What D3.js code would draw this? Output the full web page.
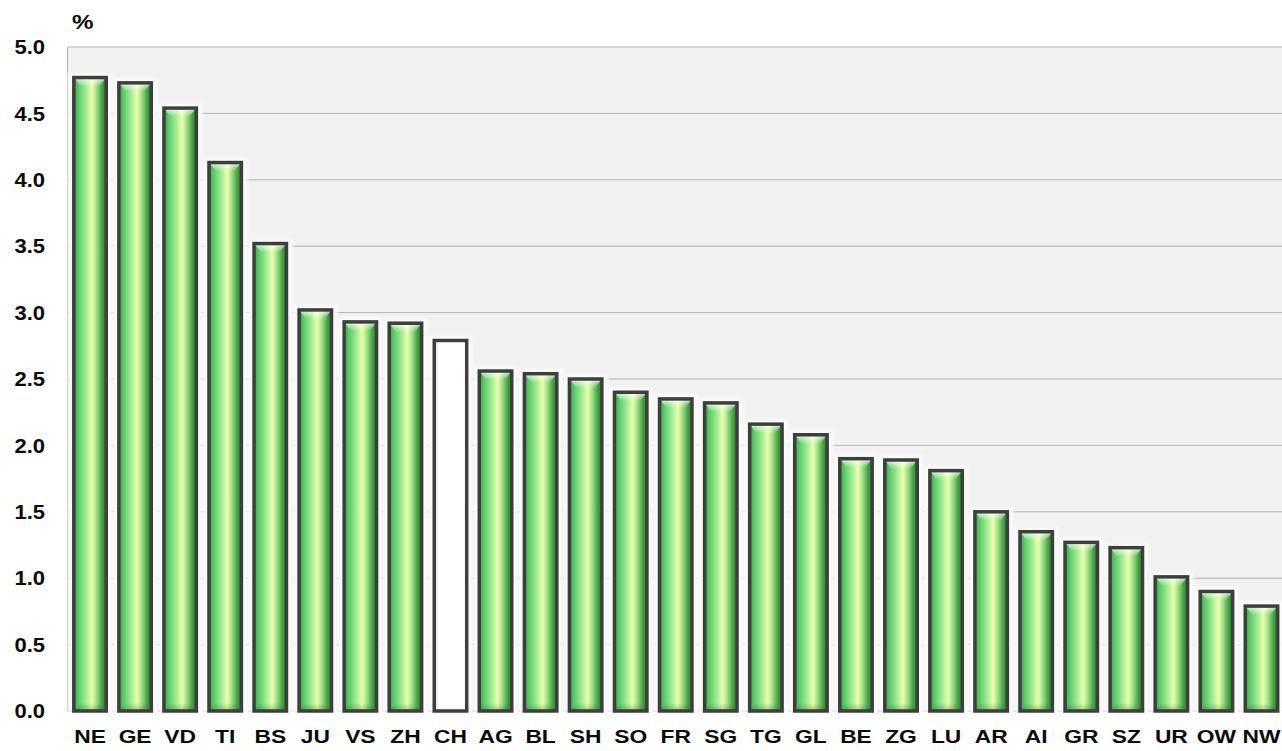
<!DOCTYPE html>
<html>
<head>
<meta charset="utf-8">
<script src="https://cdn.jsdelivr.net/npm/d3@7"></script>
<style>
  body { margin: 0; background: #fff; }
  text { font-family: "Liberation Sans", Arial, sans-serif; font-weight: bold; fill: #0a0a0a; }
</style>
</head>
<body>
<div class="chart"></div>
<script>
const cantons = ["NE", "GE", "VD", "TI", "BS", "JU", "VS", "ZH", "CH", "AG", "BL", "SH", "SO", "FR",
    "SG", "TG", "GL", "BE", "ZG", "LU", "AR", "AI", "GR", "SZ", "UR", "OW", "NW"]
const rates = [4.77, 4.73, 4.54, 4.13, 3.52, 3.02, 2.93, 2.92, 2.79, 2.56, 2.54, 2.50, 2.40, 2.35,
    2.32, 2.16, 2.08, 1.90, 1.89, 1.81, 1.50, 1.35, 1.27, 1.23, 1.01, 0.90, 0.79]
const yTicks = [0, 0.5, 1, 1.5, 2, 2.5, 3, 3.5, 4, 4.5, 5]
const highlight = "CH"

const width = 1282
const height = 751
const plotLeft = 67.5, plotRight = 1284, plotTop = 47, plotBottom = 711

const bars = cantons.map((c, i) => ({ canton: c, value: rates[i] }))

const svg = d3.select(".chart").append("svg").attr("width", width).attr("height", height)

const defs = svg.append("defs")
const grad = defs.append("linearGradient").attr("id", "barGrad")
    .attr("x1", "0%").attr("x2", "100%").attr("y1", "0%").attr("y2", "0%")
const stops = [[0, "#38a044"], [0.12, "#58c462"], [0.32, "#8ce48a"], [0.56, "#ecffae"],
    [0.7, "#a2e088"], [0.86, "#4aa848"], [1, "#277a2a"]]
stops.forEach(s => grad.append("stop").attr("offset", s[0]).attr("stop-color", s[1]))

const topGrad = defs.append("linearGradient").attr("id", "topGrad")
    .attr("x1", "0%").attr("x2", "0%").attr("y1", "0%").attr("y2", "100%")
topGrad.append("stop").attr("offset", 0).attr("stop-color", "#ffffff").attr("stop-opacity", 0.85)
topGrad.append("stop").attr("offset", 1).attr("stop-color", "#ffffff").attr("stop-opacity", 0)

const botGrad = defs.append("linearGradient").attr("id", "botGrad")
    .attr("x1", "0%").attr("x2", "0%").attr("y1", "0%").attr("y2", "100%")
botGrad.append("stop").attr("offset", 0).attr("stop-color", "#1f6a20").attr("stop-opacity", 0)
botGrad.append("stop").attr("offset", 1).attr("stop-color", "#1f6a20").attr("stop-opacity", 0.35)

const whiteGrad = defs.append("linearGradient").attr("id", "whiteGrad")
    .attr("x1", "0%").attr("x2", "100%")
whiteGrad.append("stop").attr("offset", 0).attr("stop-color", "#d8d8d8")
whiteGrad.append("stop").attr("offset", 0.15).attr("stop-color", "#ffffff")
whiteGrad.append("stop").attr("offset", 1).attr("stop-color", "#ffffff")

defs.append("filter").attr("id", "glow").attr("x", "-50%").attr("y", "-10%")
    .attr("width", "200%").attr("height", "120%")
    .append("feGaussianBlur").attr("stdDeviation", 1.5)

const x = d3.scaleBand().domain(cantons).range([plotLeft, plotRight]).paddingInner(0.28).paddingOuter(0.14)
const y = d3.scaleLinear().domain([0, 5]).range([plotBottom, plotTop])
const bw = x.bandwidth()

// plot background
svg.append("rect").attr("x", plotLeft).attr("y", plotTop)
    .attr("width", plotRight - plotLeft).attr("height", plotBottom - plotTop)
    .attr("fill", "#f1f1f1")

// gridlines
svg.selectAll(".grid").data(yTicks).enter().append("line")
    .attr("x1", plotLeft).attr("x2", plotRight)
    .attr("y1", d => y(d)).attr("y2", d => y(d))
    .attr("stroke", d => d === 0 ? "#c8c8c8" : "#b4b4b4")
    .attr("stroke-width", 1)
    .attr("stroke-dasharray", d => d === 0 ? "6,3" : null)

svg.append("line").attr("x1", plotLeft).attr("x2", plotLeft).attr("y1", plotTop).attr("y2", plotBottom)
    .attr("stroke", "#b4b4b4")

// halo behind bars
svg.selectAll(".halo").data(bars).enter().append("rect")
    .attr("x", d => x(d.canton) - 6)
    .attr("y", d => y(d.value) - 5)
    .attr("width", bw + 12)
    .attr("height", d => plotBottom - y(d.value) + 5)
    .attr("fill", "#fafafa")
    .attr("filter", "url(#glow)")

// bars
svg.selectAll(".bar").data(bars).enter().append("rect")
    .attr("x", d => x(d.canton))
    .attr("y", d => y(d.value))
    .attr("width", bw)
    .attr("height", d => plotBottom - y(d.value))
    .attr("fill", d => d.canton === highlight ? "url(#whiteGrad)" : "url(#barGrad)")

const greenBars = bars.filter(d => d.canton !== highlight)

// bevels
svg.selectAll(".bevelTop").data(greenBars).enter().append("polygon")
    .attr("points", d => {
        const x0 = x(d.canton), t = y(d.value)
        return [[x0, t], [x0 + bw, t], [x0 + bw - 7, t + 9], [x0 + 7, t + 9]].join(" ")
    })
    .attr("fill", "url(#topGrad)")

svg.selectAll(".bevelBot").data(greenBars).enter().append("polygon")
    .attr("points", d => {
        const x0 = x(d.canton)
        return [[x0 + 6, plotBottom - 8], [x0 + bw - 6, plotBottom - 8], [x0 + bw, plotBottom], [x0, plotBottom]].join(" ")
    })
    .attr("fill", "url(#botGrad)")

// bar outlines
svg.selectAll(".outline").data(bars).enter().append("rect")
    .attr("x", d => x(d.canton))
    .attr("y", d => y(d.value))
    .attr("width", bw)
    .attr("height", d => plotBottom - y(d.value))
    .attr("fill", "none")
    .attr("stroke", "#3e3e3e")
    .attr("stroke-width", 3.5)

// y axis labels (slightly wide type, as in the original)
svg.selectAll(".ylab").data(yTicks).enter().append("text")
    .attr("transform", d => "translate(45," + y(d) + ") scale(1.1,1)")
    .attr("dy", "0.36em")
    .attr("text-anchor", "end")
    .style("font-size", "20px")
    .text(d => d.toFixed(1))

svg.append("text").attr("transform", "translate(72,29) scale(1.15,1)")
    .style("font-size", "21px").text("%")

// x axis labels
svg.selectAll(".xlab").data(cantons).enter().append("text")
    .attr("transform", d => "translate(" + (x(d) + bw / 2) + ",743) scale(1.2,1)")
    .attr("text-anchor", "middle")
    .style("font-size", "19px")
    .text(d => d)
</script>
</body>
</html>
